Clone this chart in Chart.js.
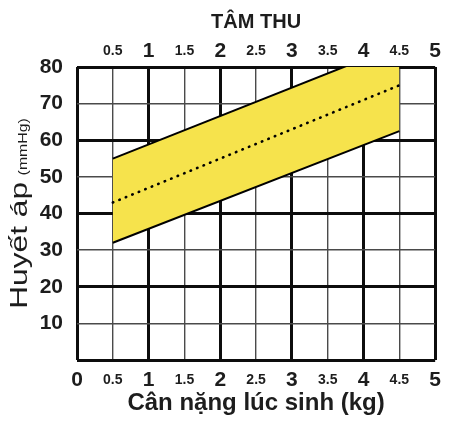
<!DOCTYPE html>
<html>
<head>
<meta charset="utf-8">
<title>Tâm thu</title>
<script src="https://cdn.jsdelivr.net/npm/chart.js@4.4.1/dist/chart.umd.min.js"></script>
<style>
  html, body { margin: 0; padding: 0; background: #fff; }
  #wrap { width: 449px; height: 421px; }
</style>
</head>
<body>
<div id="wrap"><canvas id="bp-chart"></canvas></div>
<script>
'use strict';

// birth weight (kg) where the band starts and ends
const weights = [0.5, 4.5];
// systolic band (mmHg)
const upperBP = [55, 86];
const meanBP = [43, 75];
const lowerBP = [32, 62.5];

const xTickValues = [0, 0.5, 1, 1.5, 2, 2.5, 3, 3.5, 4, 4.5, 5];
const bottomTickLabels = ['0', '0.5', '1', '1.5', '2', '2.5', '3', '3.5', '4', '4.5', '5'];
const topTickLabels = ['', '0.5', '1', '1.5', '2', '2.5', '3', '3.5', '4', '4.5', '5'];
const yTickValues = [0, 10, 20, 30, 40, 50, 60, 70, 80];
const yTickLabels = ['', '10', '20', '30', '40', '50', '60', '70', '80'];

const topTitle = 'TÂM THU';
const xTitle = 'Cân nặng lúc sinh (kg)';
const yTitleMain = 'Huyết áp';
const yTitleUnit = '(mmHg)';

const textColor = '#1d1d1d';
const fontFamily = '"Liberation Sans", Arial, sans-serif';
const bandYellow = '#f6e34c';

function points(ys) {
  return weights.map(function (w, i) { return { x: w, y: ys[i] }; });
}

function xTickFont(ctx) {
  const whole = ctx.tick && ctx.tick.value % 1 === 0;
  return { family: fontFamily, weight: 'bold', size: whole ? 21 : 14, lineHeight: '24px' };
}

function xGridWidth(ctx) {
  return ctx.tick && ctx.tick.value % 1 === 0 ? 3 : 1.4;
}

function xGridColor(ctx) {
  return ctx.tick && ctx.tick.value % 1 === 0 ? '#0d0d0d' : '#4a4a4a';
}

// y title has two sizes, so it is drawn by hand
const yTitlePlugin = {
  id: 'yTitle',
  afterDraw: function (chart) {
    const ctx = chart.ctx;
    const area = chart.chartArea;
    const mainFont = '24px ' + fontFamily;
    const unitFont = '12px ' + fontFamily;
    const stretch = 1.32;
    const gap = 5;

    ctx.save();
    ctx.fillStyle = textColor;
    ctx.textBaseline = 'alphabetic';
    ctx.textAlign = 'left';
    ctx.font = mainFont;
    const w1 = ctx.measureText(yTitleMain).width;
    ctx.font = unitFont;
    const w2 = ctx.measureText(yTitleUnit).width;
    const total = (w1 + gap + w2) * stretch;
    const cy = (area.top + area.bottom) / 2;

    ctx.translate(27, cy + total / 2);
    ctx.rotate(-Math.PI / 2);
    ctx.scale(stretch, 1);
    ctx.font = mainFont;
    ctx.fillText(yTitleMain, 0, 0);
    ctx.font = unitFont;
    ctx.fillText(yTitleUnit, w1 + gap, 0);
    ctx.restore();
  }
};

const ctx = document.getElementById('bp-chart').getContext('2d');
new Chart(ctx, {
  type: 'line',
  data: {
    datasets: [
      {
        label: 'lower',
        data: points(lowerBP),
        borderColor: '#000',
        borderWidth: 2,
        pointRadius: 0,
        fill: false,
      },
      {
        label: 'mean',
        data: points(meanBP),
        borderColor: '#000',
        borderWidth: 2.6,
        borderDash: [0.5, 6.5],
        borderCapStyle: 'round',
        pointRadius: 0,
        fill: false,
      },
      {
        label: 'upper',
        data: points(upperBP),
        borderColor: '#000',
        borderWidth: 2,
        pointRadius: 0,
        fill: { target: 0 },
        backgroundColor: bandYellow,
      },
    ],
  },
  options: {
    responsive: true,
    maintainAspectRatio: false,
    animation: false,
    layout: { padding: { left: 0, right: 8, top: 0, bottom: 0 } },
    plugins: {
      legend: { display: false },
      tooltip: { enabled: false },
      filler: { drawTime: 'beforeDatasetsDraw' },
    },
    scales: {
      x: {
        type: 'linear',
        position: 'bottom',
        min: 0,
        max: 5,
        z: 1,
        afterFit: function (scale) { scale.height = 61; },
        afterBuildTicks: function (scale) {
          scale.ticks = xTickValues.map(function (v) { return { value: v }; });
        },
        border: { display: false },
        grid: {
          drawTicks: false,
          lineWidth: xGridWidth,
          color: xGridColor,
        },
        ticks: {
          padding: 8,
          maxRotation: 0,
          autoSkip: false,
          color: textColor,
          font: xTickFont,
          callback: function (value, index) { return bottomTickLabels[index]; },
        },
        title: {
          display: true,
          text: xTitle,
          color: textColor,
          font: { family: fontFamily, weight: 'bold', size: 24 },
          padding: { top: 0, bottom: 3 },
        },
      },
      x2: {
        type: 'linear',
        position: 'top',
        min: 0,
        max: 5,
        afterFit: function (scale) { scale.height = 67; },
        afterBuildTicks: function (scale) {
          scale.ticks = xTickValues.map(function (v) { return { value: v }; });
        },
        border: { display: false },
        grid: { display: false, drawTicks: false },
        ticks: {
          padding: 4,
          maxRotation: 0,
          autoSkip: false,
          color: textColor,
          font: xTickFont,
          callback: function (value, index) { return topTickLabels[index]; },
        },
        title: {
          display: true,
          text: topTitle,
          color: textColor,
          font: { family: fontFamily, weight: 'bold', size: 20 },
          padding: { top: 10, bottom: 0 },
        },
      },
      y: {
        type: 'linear',
        min: 0,
        max: 80,
        z: 1,
        afterFit: function (scale) { scale.width = 77; },
        afterBuildTicks: function (scale) {
          scale.ticks = yTickValues.map(function (v) { return { value: v }; });
        },
        border: { display: false },
        grid: {
          drawTicks: false,
          lineWidth: function (c) { return c.tick && c.tick.value % 20 === 0 ? 3 : 1.4; },
          color: function (c) { return c.tick && c.tick.value % 20 === 0 ? '#0d0d0d' : '#4a4a4a'; },
        },
        ticks: {
          padding: 14,
          color: textColor,
          font: { family: fontFamily, weight: 'bold', size: 21 },
          callback: function (value, index) { return yTickLabels[index]; },
        },
      },
    },
  },
  plugins: [yTitlePlugin],
});
</script>
</body>
</html>
